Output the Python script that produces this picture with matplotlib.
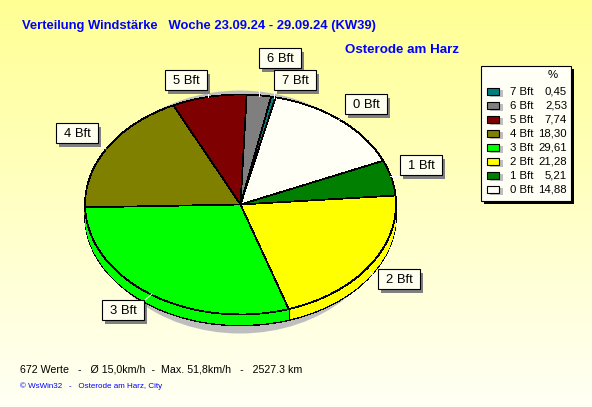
import numpy as np
import matplotlib
matplotlib.use("Agg")
import matplotlib.pyplot as plt
from matplotlib.patches import Rectangle, Ellipse

plt.rcParams['font.family'] = ['Liberation Sans', 'DejaVu Sans']

title = "Verteilung Windstärke   Woche 23.09.24 - 29.09.24 (KW39)"
station = "Osterode am Harz"
footer = "672 Werte   -   Ø 15,0km/h  -  Max. 51,8km/h   -   2527.3 km"
credit = "© WsWin32   -   Osterode am Harz, City"
labels = ["0 Bft", "1 Bft", "2 Bft", "3 Bft", "4 Bft", "5 Bft", "6 Bft", "7 Bft"]
values = [14.88, 5.21, 21.28, 29.61, 18.30, 7.74, 2.53, 0.45]
value_text = ["14,88", "5,21", "21,28", "29,61", "18,30", "7,74", "2,53", "0,45"]
colors = ["#FFFFF5", "#007F00", "#FFFF00", "#00FF00", "#7F7F00", "#7F0000", "#7F7F7F", "#007F7F"]

W, H = 592, 407
CX, CY, RX, RY, DEPTH = 240.5, 204.5, 155.5, 110, 11
START = 77

fig = plt.figure(figsize=(W / 100, H / 100), dpi=100)

# background and overlay in pixel coordinates
bg = fig.add_axes([0, 0, 1, 1], zorder=0)
top = np.array([1.0, 1.0, 0.58]); bot = np.array([1.0, 1.0, 0.96])
img = top + np.linspace(0, 1, 256)[:, None, None] * (bot - top)
bg.imshow(img, extent=[0, W, H, 0], aspect='auto', zorder=0)
bg.set_xlim(0, W); bg.set_ylim(H, 0); bg.axis('off')
bg.add_patch(Ellipse((240, 212), 300, 243, fc="#BEBEBE", ec='none', zorder=1))

# pie axes: data unit = pie radius, stretched to an ellipse
pa = fig.add_axes([0, 0, 1, 1], zorder=1)
pa.patch.set_alpha(0)
for d in range(DEPTH, -1, -1):
    edge = 'black' if d in (0, DEPTH) else 'none'
    pa.pie(values, colors=colors, startangle=START, counterclock=False,
           center=(0, -d / RY), radius=1,
           wedgeprops=dict(edgecolor=edge, linewidth=0.55 if edge == 'black' else 0,
                           antialiased=False))
# vertical edges on the rim
ang = START - np.cumsum(values) * 3.6
for a in np.deg2rad(ang):
    if np.sin(a) < 0:
        pa.plot([np.cos(a)] * 2, [np.sin(a), np.sin(a) - DEPTH / RY], color='black', lw=0.55, antialiased=False)
pa.set_aspect('auto')
pa.set_xlim(-CX / RX, (W - CX) / RX)
pa.set_ylim((CY - H) / RY, CY / RY)
pa.axis('off')

ov = fig.add_axes([0, 0, 1, 1], zorder=2)
ov.set_xlim(0, W); ov.set_ylim(H, 0); ov.axis('off'); ov.patch.set_alpha(0)

# slice labels: box position in pixels and leader end
boxes = {
    "0 Bft": (345, 94, [(345, 114), (339, 120)]),
    "1 Bft": (400, 155, [(400, 176), (390, 176)]),
    "2 Bft": (378, 269, [(378, 280), (370, 272)]),
    "3 Bft": (102, 300, [(145, 300), (152, 294)]),
    "4 Bft": (56, 123, [(98, 143), (106, 149)]),
    "5 Bft": (165, 70, [(208, 90), (208, 97)]),
    "6 Bft": (259, 48, [(259, 68), (259, 96)]),
    "7 Bft": (274, 70, [(274, 90), (274, 98)]),
}
BW, BH = 42, 20
for name in labels:
    x, y, line = boxes[name]
    ov.plot(*zip(*line), color='white', lw=0.72, zorder=3)
    ov.add_patch(Rectangle((x + 3, y + 4), BW, BH, fc="#808080", ec='none', zorder=4))
    ov.add_patch(Rectangle((x, y), BW, BH, fc="#FFFFF0", ec='black', lw=0.8, zorder=5))
    ov.text(x + BW / 2, y + BH / 2 + 1, name, ha='center', va='center', fontsize=9.4, color='black', zorder=6)

# legend
ov.add_patch(Rectangle((484, 69), 90, 135, fc="black", ec='none', zorder=3))
ov.add_patch(Rectangle((481, 66), 90, 135, fc="#FFFFF5", ec='black', lw=0.8, zorder=4))
ov.text(553, 75, "%", ha='center', va='center', fontsize=8.2, zorder=5)
for i, idx in enumerate(range(len(labels) - 1, -1, -1)):
    yy = 91 + 14 * i
    ov.add_patch(Rectangle((490, yy - 1), 13, 7, fc="#BEBEBE", ec='none', zorder=5))
    ov.add_patch(Rectangle((487, yy - 3.5), 12, 7, fc=colors[idx], ec='black', lw=0.8, zorder=6))
    ov.text(510, yy + 1, labels[idx], ha='left', va='center', fontsize=8.2, zorder=5)
    ov.text(567, yy + 1, value_text[idx], ha='right', va='center', fontsize=8.2, zorder=5)

ov.text(22, 26, title, color='#0000FF', fontweight='bold', fontsize=9.4, ha='left', va='center')
ov.text(345, 50, station, color='#0000FF', fontweight='bold', fontsize=9.6, ha='left', va='center')
ov.text(20, 369, footer, color='black', fontsize=7.7, ha='left', va='center')
ov.text(20, 386, credit, color='#0000FF', fontsize=5.8, ha='left', va='center')

fig.savefig("out.png", dpi=100)
